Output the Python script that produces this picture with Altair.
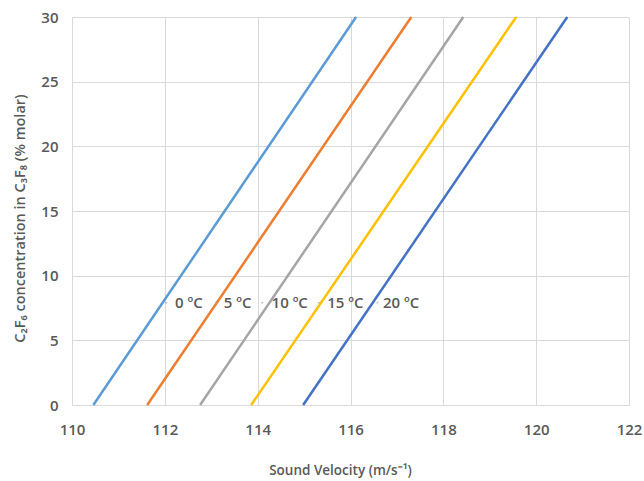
import altair as alt
import pandas as pd

# Series: sound velocity (m/s) at 0 % and 30 % C2F6
temps = ["0 ºC", "5 ºC", "10 ºC", "15 ºC", "20 ºC"]
conc_points = [0, 30]
vel_0C = [110.46, 116.12]
vel_5C = [111.62, 117.31]
vel_10C = [112.76, 118.43]
vel_15C = [113.86, 119.57]
vel_20C = [114.98, 120.67]
colors = ["#5B9BD5", "#ED7D31", "#A5A5A5", "#FFC000", "#4472C4"]

# Data labels
label_text = temps
label_x = [112.22, 113.27, 114.30, 115.50, 116.70]
label_dot_x = [112.03, 113.10, 114.10, 115.32, 116.58]
label_y = 7.9

x_ticks = [110, 112, 114, 116, 118, 120, 122]
y_ticks = [0, 5, 10, 15, 20, 25, 30]

rows = []
for t, vals in zip(temps, [vel_0C, vel_5C, vel_10C, vel_15C, vel_20C]):
    for c, v in zip(conc_points, vals):
        rows.append({"temp": t, "conc": c, "vel": v})
df = pd.DataFrame(rows)

lab = pd.DataFrame({"temp": label_text, "x": label_x, "dx": label_dot_x,
                    "y": [label_y] * len(label_text)})

FONT = "Open Sans"
GRAY = "#595959"

xscale = alt.Scale(domain=[110, 122], nice=False, zero=False)
yscale = alt.Scale(domain=[0, 30], nice=False)

lines = alt.Chart(df).mark_line(strokeWidth=2.5).encode(
    x=alt.X("vel:Q", scale=xscale,
            axis=alt.Axis(values=x_ticks, title="Sound Velocity (m/s⁻¹)",
                          format="d", domain=True, domainColor="#D9D9D9",
                          ticks=False, grid=True, gridColor="#D9D9D9",
                          labelFlush=False, labelOverlap=False,
                          labelPadding=17, labelFontSize=15, labelColor=GRAY,
                          labelFont=FONT, labelFontWeight=600,
                          titleFont=FONT, titleFontSize=13.5, titleColor=GRAY,
                          titleFontWeight=600, titleX=268, titleY=65,
                          titleBaseline="middle")),
    y=alt.Y("conc:Q", scale=yscale,
            axis=alt.Axis(values=y_ticks,
                          title="C₂F₆ concentration  in C₃F₈ (% molar)",
                          domain=False, ticks=False, grid=True,
                          labelFlush=False, labelOverlap=False,
                          gridColor="#D9D9D9", labelPadding=14,
                          labelFontSize=15, labelColor=GRAY, labelFont=FONT,
                          labelFontWeight=600, titleFont=FONT,
                          titleFontSize=14.5, titleColor=GRAY,
                          titleFontWeight=600, titleX=-52, titleY=201,
                          titleBaseline="middle", titleAlign="center")),
    color=alt.Color("temp:N", scale=alt.Scale(domain=temps, range=colors),
                    legend=None),
    detail="temp:N",
)

dots = alt.Chart(lab).mark_point(filled=True, size=4, color="#A6A6A6").encode(
    x=alt.X("dx:Q", scale=xscale),
    y=alt.Y("y:Q", scale=yscale),
)

texts = alt.Chart(lab).mark_text(align="left", baseline="middle", font=FONT,
                                 fontSize=15, fontWeight=600, color=GRAY).encode(
    x=alt.X("x:Q", scale=xscale),
    y=alt.Y("y:Q", scale=yscale),
    text="temp:N",
)

chart = alt.layer(lines, dots, texts).properties(
    width=557, height=388,
    autosize=alt.AutoSizeParams(type="none"),
    padding={"left": 72, "top": 17, "right": 15, "bottom": 76},
    background="white",
).configure_view(stroke=None)

chart.save("out.html", embed_options={"renderer": "svg", "actions": False})
